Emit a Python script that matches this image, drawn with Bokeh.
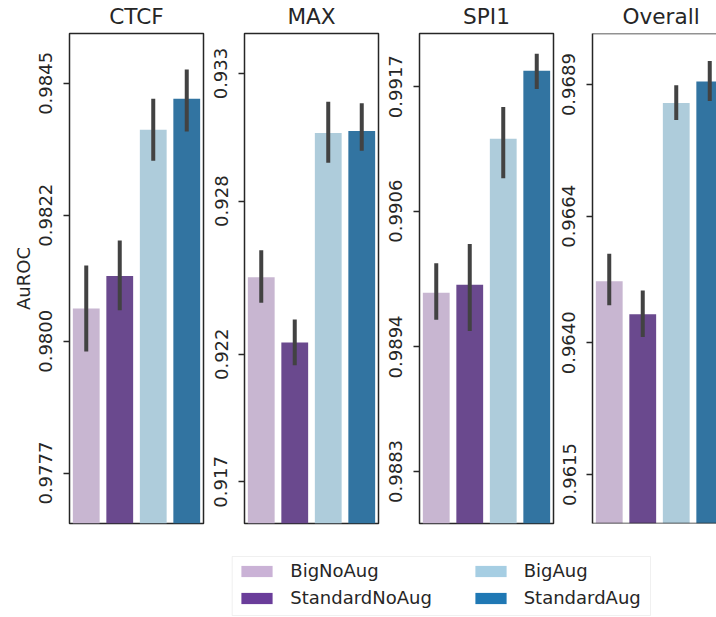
from bokeh.plotting import figure
from bokeh.layouts import row, column
from bokeh.models import (Range1d, FixedTicker, PrintfTickFormatter, Legend, LegendItem,
                          BoxAnnotation, Span, ColumnDataSource)
from bokeh.embed import file_html
from bokeh.resources import INLINE

# ---------------- data ----------------
panels = ["CTCF", "MAX", "SPI1", "Overall"]
models = ["BigNoAug", "StandardNoAug", "BigAug", "StandardAug"]

ctcf_mean = [0.98057, 0.98114, 0.98369, 0.98423]
ctcf_ci_low = [0.97982, 0.98054, 0.98315, 0.98366]
ctcf_ci_high = [0.98132, 0.98176, 0.98423, 0.98474]

max_mean = [0.92502, 0.92246, 0.93067, 0.93075]
max_ci_low = [0.92402, 0.92157, 0.92951, 0.92998]
max_ci_high = [0.92608, 0.92336, 0.93190, 0.93184]

spi1_mean = [0.98988, 0.98995, 0.99124, 0.99184]
spi1_ci_low = [0.98964, 0.98954, 0.99089, 0.99168]
spi1_ci_high = [0.99014, 0.99031, 0.99152, 0.99199]

overall_mean = [0.96517, 0.96454, 0.96855, 0.96896]
overall_ci_low = [0.96471, 0.96411, 0.96823, 0.96859]
overall_ci_high = [0.96569, 0.96499, 0.96889, 0.96935]

ctcf_ticks = [0.9777, 0.9800, 0.9822, 0.9845]
max_ticks = [0.917, 0.922, 0.928, 0.933]
spi1_ticks = [0.9883, 0.9894, 0.9906, 0.9917]
overall_ticks = [0.9615, 0.9640, 0.9664, 0.9689]

ctcf_ylim = (0.97682, 0.98537)
max_ylim = (0.91537, 0.93457)
spi1_ylim = (0.98784, 0.99217)
overall_ylim = (0.96057, 0.96987)

# ---------------- styles ----------------
bar_colors = ["#c8b6d1", "#6a498e", "#aeccdb", "#3274a1"]
legend_colors = ["#cab2d6", "#6a3d9a", "#a6cee3", "#1f78b4"]
INK = "#262626"
ERR = "#424242"
FONT = "DejaVu Sans"

panel_data = [
    (ctcf_mean, ctcf_ci_low, ctcf_ci_high, ctcf_ticks, "%.4f", ctcf_ylim),
    (max_mean, max_ci_low, max_ci_high, max_ticks, "%.3f", max_ylim),
    (spi1_mean, spi1_ci_low, spi1_ci_high, spi1_ticks, "%.4f", spi1_ylim),
    (overall_mean, overall_ci_low, overall_ci_high, overall_ticks, "%.4f", overall_ylim),
]
left_borders = [69, 38, 38, 36]
frame_widths = [134, 134, 134, 124]
right_borders = [3, 3, 3, 0]
title_aligns = ["center", "center", "center", "left"]
title_offsets = [0, 0, 0, 30]
TOP, FRAME_H, BOTTOM = 33, 490, 5

figs = []
for i, name in enumerate(panels):
    mean, lo, hi, ticks, fmt, ylim = panel_data[i]
    xs = list(range(len(models)))
    cat_w = frame_widths[0] / len(models)
    x_end = -0.5 + frame_widths[i] / cat_w
    p = figure(width=left_borders[i] + frame_widths[i] + right_borders[i],
               height=TOP + FRAME_H + BOTTOM,
               x_range=Range1d(-0.5, x_end), y_range=Range1d(*ylim),
               x_axis_location=None, output_backend="svg", toolbar_location=None,
               min_border_left=left_borders[i], min_border_right=right_borders[i],
               min_border_top=TOP, min_border_bottom=BOTTOM, title=name)
    p.grid.visible = False
    p.title.align = title_aligns[i]
    p.title.vertical_align = "top"
    p.title.text_font = FONT
    p.title.text_font_size = "21.6px"
    p.title.text_font_style = "normal"
    p.title.text_color = INK
    p.title.standoff = 6
    p.title.offset = title_offsets[i]

    src = ColumnDataSource(dict(x=xs, top=mean, lo=lo, hi=hi, color=bar_colors))
    p.vbar(x="x", top="top", bottom=0, width=0.8, fill_color="color", line_color=None, source=src)
    p.segment(x0="x", y0="lo", x1="x", y1="hi", line_color=ERR, line_width=4, source=src)

    ax = p.yaxis[0]
    ax.ticker = FixedTicker(ticks=ticks)
    ax.formatter = PrintfTickFormatter(format=fmt)
    ax.major_label_orientation = "vertical"
    ax.major_label_text_font = FONT
    ax.major_label_text_font_size = "18px"
    ax.major_label_text_color = INK
    ax.major_label_standoff = 11
    ax.major_tick_out = 6
    ax.major_tick_in = 0
    ax.major_tick_line_width = 1.5
    ax.major_tick_line_color = INK
    ax.minor_tick_line_color = None
    if i == 0:
        ax.axis_label = "AuROC"
        ax.axis_label_text_font = FONT
        ax.axis_label_text_font_size = "18px"
        ax.axis_label_text_font_style = "normal"
        ax.axis_label_text_color = INK
        ax.axis_label_standoff = 3

    if i < 3:
        p.outline_line_color = INK
        p.outline_line_width = 1.5
        p.outline_line_alpha = 1
        ax.axis_line_color = None
    else:
        p.outline_line_color = None
        ax.axis_line_color = INK
        ax.axis_line_width = 1.5
        p.add_layout(Span(location=ylim[1], dimension="width", line_color=INK, line_width=1.5))
        p.add_layout(Span(location=ylim[0], dimension="width", line_color=INK, line_width=1.5))
    figs.append(p)

# ---------------- legend ----------------
LW, LH = 716, 88
lp = figure(width=LW, height=LH, x_range=Range1d(0, LW), y_range=Range1d(0, LH),
            x_axis_location=None, y_axis_location=None, output_backend="svg",
            toolbar_location=None, min_border=0, outline_line_color=None)
lp.grid.visible = False
lp.add_layout(BoxAnnotation(left=231.7, right=650, bottom=1, top=60, fill_color="white",
                            fill_alpha=1, line_color="#cccccc", line_width=1))
# zero-height proxy bars: only used to draw the legend swatches
leg_src = ColumnDataSource(dict(x=list(range(len(models))), top=overall_mean,
                                bottom=overall_mean, color=legend_colors))
proxy = lp.vbar(x="x", top="top", bottom="bottom", width=0.8, fill_color="color",
                line_color=None, source=leg_src)

def make_legend(idx, loc):
    return Legend(items=[LegendItem(label=models[k], renderers=[proxy], index=k) for k in idx],
                  location=loc, orientation="vertical", padding=0, margin=0, spacing=6,
                  glyph_width=39, glyph_height=14, label_standoff=14, label_height=21,
                  label_text_font=FONT, label_text_font_size="18px", label_text_color=INK,
                  border_line_color=None, background_fill_alpha=0)

lp.add_layout(make_legend([0, 1], (237.3, 7.6)))
lp.add_layout(make_legend([2, 3], (470.7, 7.6)))

layout = column(row(*figs, spacing=0), lp, spacing=0)
open("out.html", "w").write(file_html(layout, INLINE))
